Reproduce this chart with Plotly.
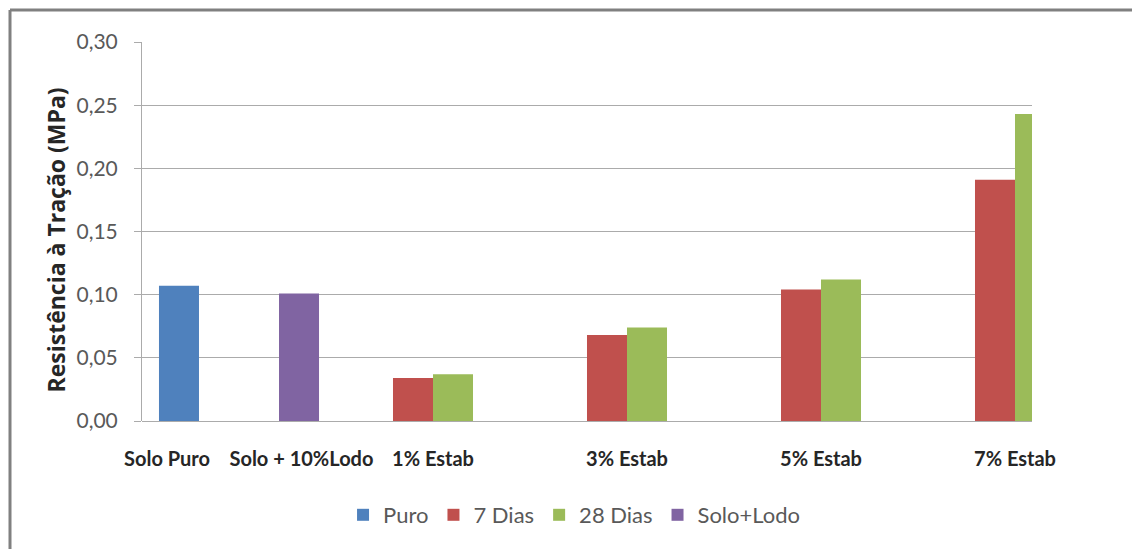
import plotly.graph_objects as go

# dados (MPa)
NB = "\u00a0"
categorias = [NB * 4 + "Solo Puro" + NB * 4 + "Solo + 10%Lodo", "1% Estab", "3% Estab", "5% Estab", "7% Estab"]
puro = [0.107, None, None, None, None]
dias7 = [None, 0.034, 0.068, 0.104, 0.191]
dias28 = [None, 0.037, 0.074, 0.112, 0.243]
solo_lodo = [0.101, None, None, None, None]

series = [
    ("Puro", puro, "#4F81BD"),
    ("7 Dias", dias7, "#C0504D"),
    ("28 Dias", dias28, "#9BBB59"),
    ("Solo+Lodo", solo_lodo, "#8064A2"),
]

W, H = 1132, 549
ML, MT = 142, 42
pw, ph = 890, 379
MR, MB = W - ML - pw, H - MT - ph

fig = go.Figure()
for nome, vals, cor in series:
    fig.add_trace(go.Bar(x=categorias, y=vals, name=nome, marker_color=cor,
                         marker_line_width=0))

# moldura (só topo e esquerda aparecem no recorte)
bx = (10 - ML) / pw
by = (MT + ph - 10) / ph
fig.add_shape(type="line", xref="paper", yref="paper", x0=bx, x1=1.3, y0=by, y1=by,
              line=dict(color="#808080", width=3))
fig.add_shape(type="line", xref="paper", yref="paper", x0=bx, x1=bx, y0=-0.5, y1=by,
              line=dict(color="#808080", width=3))

# título do eixo y
fig.add_annotation(text="<b>Resistência à Tração (MPa)</b>", textangle=-90,
                   xref="paper", yref="paper", showarrow=False,
                   x=(55.5 - ML) / pw, y=(MT + ph - 240) / ph,
                   xanchor="center", yanchor="middle",
                   font=dict(size=23, color="#262626", family="'Open Sans', sans-serif"))

fig.update_layout(
    width=W, height=H,
    margin=dict(l=ML, r=MR, t=MT, b=MB),
    paper_bgcolor="white", plot_bgcolor="white",
    barmode="group", bargap=0.175, bargroupgap=0,
    separators=",.",
    font=dict(family="Lato, 'Open Sans', sans-serif", color="#595959"),
    xaxis=dict(
        range=[-0.5, -0.5 + pw / 194], automargin=False,
        showgrid=False, showline=False, ticks="",
        tickfont=dict(size=20, color="#262626", family="Lato, sans-serif", weight="bold"),
        ticklabelstandoff=24,
    ),
    yaxis=dict(
        range=[0, 0.30], dtick=0.05, tickformat=".2f", automargin=False,
        showgrid=True, gridcolor="#ababab", gridwidth=1,
        showline=True, linecolor="#ababab", linewidth=1,
        ticks="outside", ticklen=7, tickcolor="#ababab",
        tickfont=dict(size=21, color="#595959"),
        ticklabelstandoff=12,
        zeroline=True, zerolinecolor="#ababab", zerolinewidth=1,
    ),
    legend=dict(orientation="h", x=0.486, xanchor="center",
                yref="container", y=1 - 515 / H, yanchor="middle",
                font=dict(size=22, color="#595959"), itemwidth=30),
    showlegend=True,
)

# sem margem do body, sem barras de rolagem e sem modebar
fig.write_html("out.html", config={"displayModeBar": False},
               post_script="document.body.style.margin='0';document.body.style.overflow='hidden';")
